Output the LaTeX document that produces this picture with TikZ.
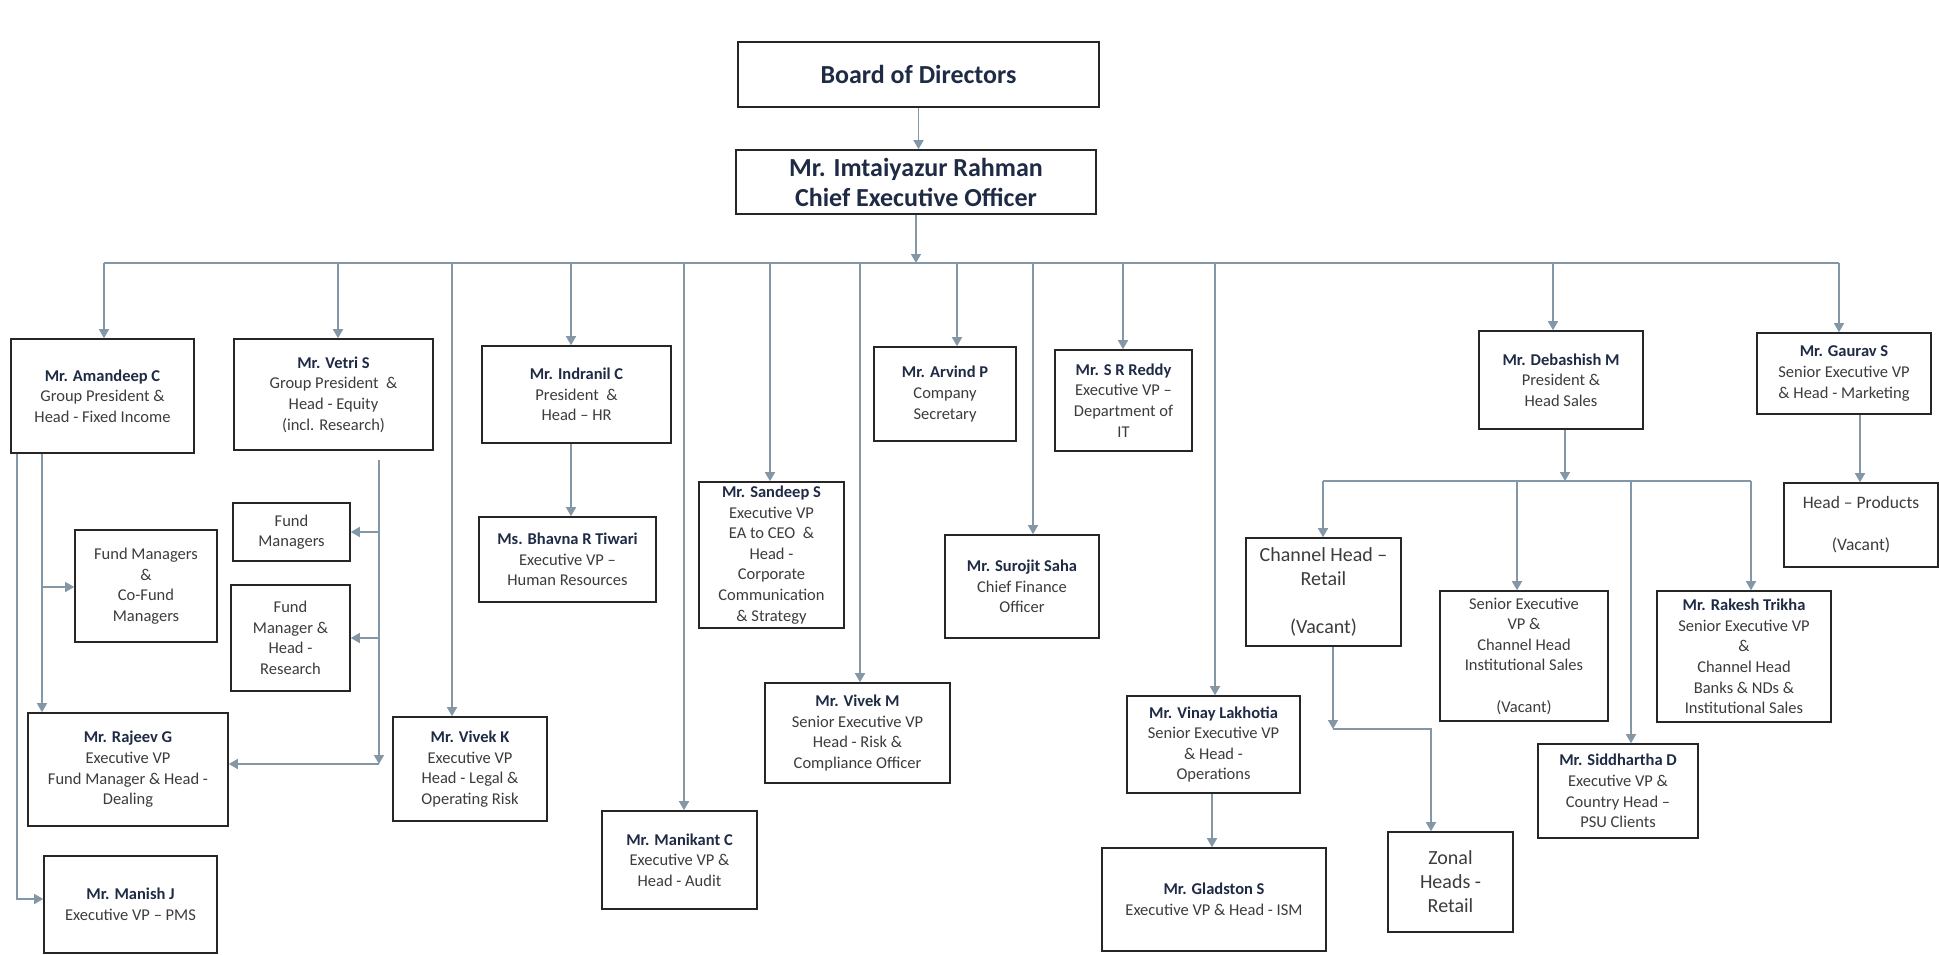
\documentclass[tikz,border=0pt]{standalone}
\usepackage{fontspec}
\setmainfont{Carlito}
\usetikzlibrary{arrows.meta}
\definecolor{namec}{HTML}{1F2B45}
\definecolor{txtc}{HTML}{3C3C3C}
\definecolor{linec}{HTML}{8497A6}
\newcommand{\pname}[1]{{\bfseries\color{namec}#1}}
\tikzset{
  box/.style={draw=black!85, line width=1.6pt, inner sep=1pt, align=center, text=txtc,
              font=\fontsize{16.5}{20.6}\selectfont},
  bigbox/.style={box, text=namec, font=\fontsize{26}{30}\selectfont\bfseries},
  midbox/.style={box, font=\fontsize{20}{24}\selectfont},
  conn/.style={draw=linec, line width=1.5pt},
  arr/.style={conn, -{Triangle[width=10pt,length=9pt]}},
}
\begin{document}
\begin{tikzpicture}[x=1pt,y=-1pt]
\fill[white] (0,0) rectangle (1939,954);
\useasboundingbox (0,0) rectangle (1939,954);

% top
\node[bigbox, minimum width=361pt, minimum height=65pt] (board) at (918.5,74.5) {Board of Directors};
\node[bigbox, minimum width=360pt, minimum height=64pt] (ceo) at (916,182) {Mr. Imtaiyazur Rahman\\Chief Executive Officer};

% level 1
\node[box, minimum width=183pt, minimum height=114pt] (amandeep) at (102.5,396) {\pname{Mr. Amandeep C}\\Group President \&\\Head - Fixed Income};
\node[box, minimum width=199pt, minimum height=111pt] (vetri) at (333.5,394.5) {\pname{Mr. Vetri S}\\Group President \ \&\\Head - Equity\\(incl. Research)};
\node[box, minimum width=189pt, minimum height=97pt] (indranil) at (576.5,394.5) {\pname{Mr. Indranil C}\\President \ \&\\Head – HR};
\node[box, minimum width=142pt, minimum height=94pt] (arvind) at (945,394) {\pname{Mr. Arvind P}\\Company\\Secretary};
\node[box, minimum width=137pt, minimum height=101pt] (reddy) at (1123.5,400.5) {\pname{Mr. S R Reddy}\\Executive VP –\\Department of\\IT};
\node[box, minimum width=164pt, minimum height=98pt] (debashish) at (1561,380) {\pname{Mr. Debashish M}\\President \&\\Head Sales};
\node[box, minimum width=174pt, minimum height=81pt] (gaurav) at (1844,373.5) {\pname{Mr. Gaurav S}\\Senior Executive VP\\\& Head - Marketing};

% left branch
\node[box, minimum width=142pt, minimum height=112pt] (fmco) at (146,586) {Fund Managers\\\&\\Co-Fund\\Managers};
\node[box, minimum width=117pt, minimum height=58pt] (fm) at (291.5,532) {Fund\\Managers};
\node[box, minimum width=119pt, minimum height=106pt] (fmhr) at (290.5,638) {Fund\\Manager \&\\Head -\\Research};
\node[box, minimum width=200pt, minimum height=113pt] (rajeev) at (128,769.5) {\pname{Mr. Rajeev G}\\Executive VP\\Fund Manager \& Head -\\Dealing};
\node[box, minimum width=173pt, minimum height=97pt] (manish) at (130.5,904.5) {\pname{Mr. Manish J}\\Executive VP – PMS};
\node[box, minimum width=154pt, minimum height=104pt] (vivekk) at (470,769) {\pname{Mr. Vivek K}\\Executive VP\\Head - Legal \&\\Operating Risk};

% middle
\node[box, minimum width=177pt, minimum height=85pt] (bhavna) at (567.5,559.5) {\pname{Ms. Bhavna R Tiwari}\\Executive VP –\\Human Resources};
\node[box, minimum width=145pt, minimum height=146pt] (sandeep) at (771.5,555) {\pname{Mr. Sandeep S}\\Executive VP\\EA to CEO \ \&\\Head -\\Corporate\\Communication\\\& Strategy};
\node[box, minimum width=155pt, minimum height=98pt] (manikant) at (679.5,860) {\pname{Mr. Manikant C}\\Executive VP \&\\Head - Audit};
\node[box, minimum width=185pt, minimum height=100pt] (vivekm) at (857.5,733) {\pname{Mr. Vivek M}\\Senior Executive VP\\Head - Risk \&\\Compliance Officer};
\node[box, minimum width=154pt, minimum height=103pt] (surojit) at (1022,586.5) {\pname{Mr. Surojit Saha}\\Chief Finance\\Officer};
\node[box, minimum width=173pt, minimum height=97pt] (vinay) at (1213.5,744.5) {\pname{Mr. Vinay Lakhotia}\\Senior Executive VP\\\& Head -\\Operations};
\node[box, minimum width=224pt, minimum height=103pt] (gladston) at (1214,899.5) {\pname{Mr. Gladston S}\\Executive VP \& Head - ISM};

% sales branch
\node[midbox, minimum width=155pt, minimum height=108pt] (chretail) at (1323.5,592) {Channel Head –\\Retail\\\mbox{}\\(Vacant)};
\node[midbox, minimum width=125pt, minimum height=100pt] (zonal) at (1450.5,882) {Zonal\\Heads -\\Retail};
\node[box, minimum width=168pt, minimum height=130pt] (sevp) at (1524,656) {Senior Executive\\VP \&\\Channel Head\\Institutional Sales\\\mbox{}\\(Vacant)};
\node[box, minimum width=160pt, minimum height=94pt] (siddhartha) at (1618,791) {\pname{Mr. Siddhartha D}\\Executive VP \&\\Country Head –\\PSU Clients};
\node[box, minimum width=174pt, minimum height=131pt] (rakesh) at (1744,656.5) {\pname{Mr. Rakesh Trikha}\\Senior Executive VP\\\&\\Channel Head\\Banks \& NDs \&\\Institutional Sales};
\node[box, minimum width=154pt, minimum height=84pt, font=\fontsize{17.5}{21}\selectfont] (products) at (1861,525) {Head – Products\\\mbox{}\\(Vacant)};

% top connectors
\draw[arr] (board.south) -- (board.south |- ceo.north);
\coordinate (busc) at (917,263);
\draw[arr] (ceo.south) -- (ceo.south |- busc);
\coordinate (busL) at (104,263);
\coordinate (busR) at (1839,263);
\draw[conn] (busL) -- (busR);

% drops from bus
\coordinate (dv) at (338,263);
\coordinate (dk) at (452,263);
\coordinate (di) at (571,263);
\coordinate (dm) at (684,263);
\coordinate (ds) at (770,263);
\coordinate (dvm) at (860,263);
\coordinate (dar) at (957,263);
\coordinate (dsu) at (1033,263);
\coordinate (dr) at (1123,263);
\coordinate (dvi) at (1215,263);
\coordinate (dd) at (1553,263);
\draw[arr] (busL) -- (busL |- amandeep.north);
\draw[arr] (dv) -- (dv |- vetri.north);
\draw[arr] (dk) -- (dk |- vivekk.north);
\draw[arr] (di) -- (di |- indranil.north);
\draw[arr] (dm) -- (dm |- manikant.north);
\draw[arr] (ds) -- (ds |- sandeep.north);
\draw[arr] (dvm) -- (dvm |- vivekm.north);
\draw[arr] (dar) -- (dar |- arvind.north);
\draw[arr] (dsu) -- (dsu |- surojit.north);
\draw[arr] (dr) -- (dr |- reddy.north);
\draw[arr] (dvi) -- (dvi |- vinay.north);
\draw[arr] (dd) -- (dd |- debashish.north);
\draw[arr] (busR) -- (busR |- gaurav.north);

% Amandeep branch
\coordinate (aL) at (17,899);
\draw[arr] (aL |- amandeep.south) -- (aL) -- (aL -| manish.west);
\coordinate (aR) at (42,587);
\draw[arr] (aR |- amandeep.south) -- (aR |- rajeev.north);
\draw[arr] (aR) -- (aR -| fmco.west);

% Vetri branch
\coordinate (vt) at (379,460);
\coordinate (vb) at (379,764);
\draw[arr] (vt) -- (vb);
\draw[arr] (vb) -- (vb -| rajeev.east);
\draw[arr] (vt |- fm.east) -- (fm.east);
\draw[arr] (vt |- fmhr.east) -- (fmhr.east);

% Indranil
\draw[arr] (di |- indranil.south) -- (di |- bhavna.north);

% Vinay
\coordinate (vg) at (1212,793);
\draw[arr] (vg |- vinay.south) -- (vg |- gladston.north);

% Debashish branch
\coordinate (sb) at (1565,481);
\draw[arr] (sb |- debashish.south) -- (sb);
\coordinate (sbL) at (1323,481);
\coordinate (sbR) at (1751,481);
\coordinate (s2) at (1517,481);
\coordinate (s3) at (1631,481);
\draw[conn] (sbL) -- (sbR);
\draw[arr] (sbL) -- (sbL |- chretail.north);
\draw[arr] (s2) -- (s2 |- sevp.north);
\draw[arr] (s3) -- (s3 |- siddhartha.north);
\draw[arr] (sbR) -- (sbR |- rakesh.north);

% Channel retail -> zonal
\coordinate (z1) at (1333,729);
\coordinate (z2) at (1431,729);
\draw[arr] (z1 |- chretail.south) -- (z1);
\draw[arr] (z1) -- (z2) -- (z2 |- zonal.north);

% Gaurav -> products
\coordinate (gp) at (1860,417);
\draw[arr] (gp |- gaurav.south) -- (gp |- products.north);
\end{tikzpicture}
\end{document}
